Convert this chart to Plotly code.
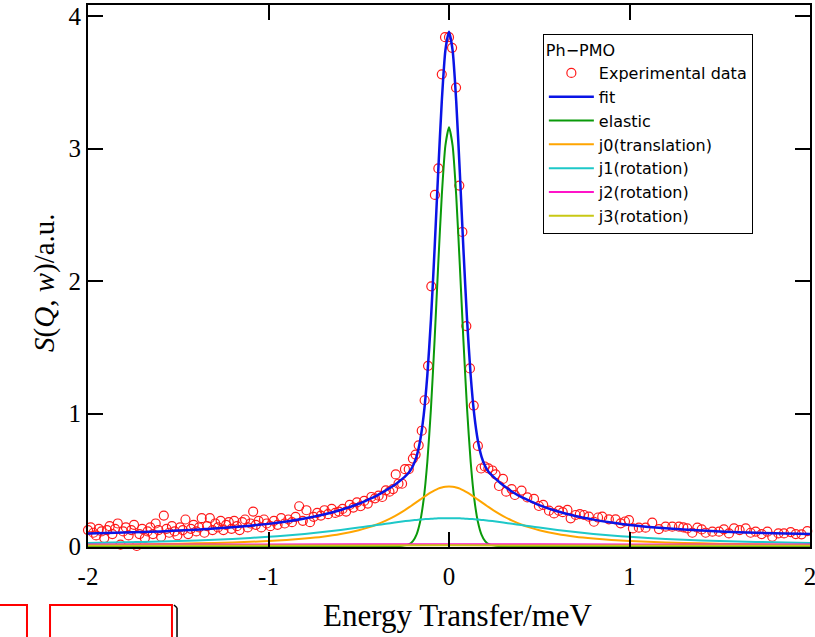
import plotly.graph_objects as go

# ---------------- data ----------------
exp_x_a = [-2.000,-1.985,-1.970,-1.955,-1.940,-1.925,-1.910,-1.895,-1.880,-1.865,
           -1.850,-1.835,-1.820,-1.805,-1.790,-1.775,-1.760,-1.745,-1.730,-1.715,
           -1.700,-1.685,-1.670,-1.655,-1.640,-1.625,-1.610,-1.595,-1.580,-1.565,
           -1.550,-1.535,-1.520,-1.505,-1.490,-1.475,-1.460,-1.445,-1.430,-1.415,
           -1.400,-1.385,-1.370,-1.355,-1.340,-1.325,-1.310,-1.295,-1.280,-1.265,
           -1.250,-1.235,-1.220,-1.205,-1.190,-1.175,-1.160,-1.145,-1.130,-1.115,
           -1.100,-1.085,-1.070,-1.055,-1.040,-1.025,-1.010]
exp_y_a = [0.12,0.14,0.10,0.08,0.13,0.11,0.06,0.12,0.15,0.09,
           0.13,0.17,0.01,0.11,0.14,0.08,0.12,0.16,0.00,0.09,
           0.13,0.06,0.11,0.14,0.09,0.17,0.12,0.07,0.23,0.13,
           0.10,0.15,0.11,0.08,0.14,0.12,0.20,0.09,0.13,0.16,
           0.11,0.14,0.21,0.10,0.15,0.21,0.12,0.17,0.14,0.19,
           0.12,0.16,0.18,0.13,0.19,0.15,0.12,0.18,0.20,0.14,
           0.17,0.26,0.16,0.19,0.14,0.20,0.17]

exp_x_b = [-0.99,-0.97,-0.95,-0.93,-0.91,-0.89,-0.87,-0.85,-0.83,-0.81,
           -0.79,-0.77,-0.75,-0.73,-0.71,-0.69,-0.67,-0.65,-0.63,-0.61,
           -0.59,-0.57,-0.55,-0.53,-0.51,-0.49,-0.47,-0.45,-0.43,-0.41,
           -0.39,-0.37,-0.35,-0.33,-0.31,-0.295]
exp_y_b = [0.15,0.19,0.16,0.21,0.17,0.20,0.18,0.22,0.30,0.19,
           0.27,0.18,0.22,0.25,0.23,0.27,0.24,0.28,0.25,0.26,
           0.28,0.26,0.31,0.29,0.33,0.30,0.34,0.32,0.37,0.36,
           0.38,0.37,0.42,0.41,0.43,0.54]

exp_x_c = [-0.28,-0.26,-0.244,-0.223,-0.20,-0.185,-0.168,-0.151,-0.135,-0.116,
           -0.098,-0.078,-0.059,-0.040,-0.022,0.000,0.017,0.039,0.057,0.074,
           0.096,0.116,0.137]
exp_y_c = [0.47,0.47,0.58,0.58,0.66,0.69,0.76,0.87,1.10,1.36,
           1.96,2.65,2.85,3.56,3.84,3.84,3.76,3.46,2.72,2.37,
           1.66,1.34,1.06]

exp_x_d = [0.160,0.178,0.198,0.218,0.240,0.258,0.277,0.299,0.317,0.347,
           0.365,0.402,0.434,0.471,0.498,0.522,0.554,0.582,0.609,0.630,
           0.656,0.674,0.702,0.725,0.748,0.775,0.803,0.826,0.849,0.886,
           0.923,0.951,0.975,0.997,1.019,1.052,1.089,1.126,1.163,1.200,
           1.237,1.274,1.298,1.320,1.348,1.376,1.400,1.422,1.459,1.496,
           1.523,1.551,1.579,1.610,1.644,1.671,1.699,1.732,1.764,1.791,
           1.825,1.856,1.893,1.921,1.953,1.985]
exp_y_d = [0.755,0.585,0.600,0.586,0.570,0.541,0.453,0.506,0.410,0.430,
           0.385,0.418,0.367,0.355,0.302,0.310,0.267,0.246,0.267,0.255,
           0.272,0.209,0.234,0.240,0.234,0.221,0.183,0.215,0.221,0.201,
           0.201,0.171,0.185,0.196,0.133,0.138,0.138,0.176,0.128,0.146,
           0.146,0.146,0.140,0.133,0.100,0.138,0.125,0.100,0.108,0.108,
           0.126,0.095,0.133,0.120,0.133,0.100,0.108,0.090,0.108,0.070,
           0.095,0.095,0.105,0.090,0.088,0.113]

curve_x = [-2.0,-1.8,-1.6,-1.4,-1.2,-1.0,-0.9,-0.8,-0.7,-0.6,
           -0.5,-0.45,-0.4,-0.35,-0.3,-0.26,-0.22,-0.2,-0.18,-0.16,
           -0.14,-0.12,-0.1,-0.08,-0.06,-0.04,-0.02,0.0,
           0.02,0.04,0.06,0.08,0.1,0.12,0.14,0.16,0.18,0.2,
           0.22,0.26,0.3,0.35,0.4,0.45,0.5,0.6,0.7,0.8,
           0.9,1.0,1.2,1.4,1.6,1.8,2.0]
fit_y = [0.094,0.101,0.110,0.123,0.141,0.167,0.185,0.208,0.236,0.272,
         0.319,0.349,0.381,0.420,0.463,0.505,0.559,0.604,0.675,0.794,
         0.989,1.289,1.709,2.237,2.819,3.356,3.741,3.881,
         3.741,3.356,2.819,2.237,1.709,1.289,0.989,0.794,0.675,0.604,
         0.559,0.505,0.458,0.410,0.370,0.338,0.308,0.262,0.226,0.199,
         0.177,0.159,0.134,0.117,0.104,0.096,0.090]
elastic_y = [0,0,0,0,0,0,0,0,0,0,
             0,0,0,0,0,0.002,0.014,0.037,0.086,0.183,
             0.356,0.636,1.037,1.549,2.116,2.644,3.022,3.160,
             3.022,2.644,2.116,1.549,1.037,0.636,0.356,0.183,0.086,0.037,
             0.014,0.002,0,0,0,0,0,0,0,0,
             0,0,0,0,0,0,0]
j0_y = [0.010,0.012,0.015,0.020,0.027,0.037,0.045,0.056,0.070,0.090,
        0.119,0.139,0.162,0.191,0.225,0.257,0.293,0.312,0.331,0.350,
        0.370,0.388,0.405,0.420,0.433,0.442,0.448,0.450,
        0.448,0.442,0.433,0.420,0.405,0.388,0.370,0.350,0.331,0.312,
        0.293,0.257,0.225,0.191,0.162,0.139,0.119,0.090,0.070,0.056,
        0.045,0.037,0.027,0.020,0.015,0.012,0.010]
j1_y = [0.023,0.028,0.034,0.042,0.053,0.069,0.079,0.091,0.105,0.121,
        0.139,0.149,0.158,0.168,0.177,0.185,0.191,0.194,0.197,0.200,
        0.202,0.204,0.206,0.207,0.209,0.209,0.210,0.210,
        0.210,0.209,0.209,0.207,0.206,0.204,0.202,0.200,0.197,0.194,
        0.191,0.185,0.177,0.168,0.158,0.149,0.139,0.121,0.105,0.091,
        0.079,0.069,0.053,0.042,0.034,0.028,0.023]
small_x = [-2.0, -1.0, 0.0, 1.0, 2.0]
j2_y = [0.011, 0.012, 0.013, 0.012, 0.011]
j3_y = [0.004, 0.004, 0.005, 0.004, 0.004]

x_ticks = [-2, -1, 0, 1, 2]
x_tick_text = ["-2", "-1", "0", "1", "2"]
y_ticks = [0, 1, 2, 3, 4]

# ---------------- figure ----------------
exp_x = exp_x_a + exp_x_b + exp_x_c + exp_x_d
exp_y = exp_y_a + exp_y_b + exp_y_c + exp_y_d

fig = go.Figure()
fig.add_trace(go.Scatter(x=exp_x, y=exp_y, mode="markers", name="Experimental data",
                         cliponaxis=False,
                         marker=dict(symbol="circle-open", size=9, color="#ff1a1a",
                                     line=dict(width=1.2, color="#ff1a1a"))))
line_specs = [
    ("fit", curve_x, fit_y, "#0a14e6", 2.5),
    ("elastic", curve_x, elastic_y, "#0a9a0a", 2),
    ("j0(translation)", curve_x, j0_y, "#ffa500", 2),
    ("j1(rotation)", curve_x, j1_y, "#1ec8c8", 2),
    ("j2(rotation)", small_x, j2_y, "#ff14c8", 2),
    ("j3(rotation)", small_x, j3_y, "#c8c814", 2),
]
for name, xs, ys, col, w in line_specs:
    fig.add_trace(go.Scatter(x=xs, y=ys, mode="lines", name=name,
                             line=dict(color=col, width=w, shape="spline", smoothing=0.6)))

serif = "Liberation Serif, Times New Roman, serif"
axis_common = dict(showgrid=False, zeroline=False, showline=True, linecolor="black",
                   linewidth=2, mirror="allticks", ticks="inside", ticklen=15,
                   tickwidth=2, tickcolor="black", automargin=False,
                   ticklabeloverflow="allow",
                   tickfont=dict(family=serif, size=25, color="black"))

fig.update_layout(
    width=815, height=637,
    margin=dict(l=88, r=5, t=5, b=90, autoexpand=False),
    paper_bgcolor="white", plot_bgcolor="white",
    xaxis=dict(range=[-2, 2], tickvals=x_ticks, ticktext=x_tick_text,
               ticklabelstandoff=6, **axis_common),
    yaxis=dict(range=[-0.0075, 4.083], tickvals=y_ticks, **axis_common),
    showlegend=True,
    legend=dict(x=0.630, y=0.946, xanchor="left", yanchor="top",
                bgcolor="white", bordercolor="black", borderwidth=1,
                font=dict(family="DejaVu Sans", size=16, color="black"),
                title=dict(text="Ph\u2212PMO", font=dict(family="DejaVu Sans", size=16)),
                itemwidth=45, tracegroupgap=0),
    annotations=[
        dict(text="Energy Transfer/meV", xref="paper", yref="paper", x=0.512, y=-0.1255,
             xanchor="center", yanchor="middle", showarrow=False,
             font=dict(family=serif, size=31, color="black")),
        dict(text="<i>S</i>(<i>Q</i>, <i>w</i>)/a.u.", xref="paper", yref="paper",
             x=-0.0596, y=0.489, xanchor="center", yanchor="middle", textangle=-90,
             showarrow=False, font=dict(family=serif, size=29, color="black")),
    ],
    shapes=[
        dict(type="rect", xref="paper", yref="paper", x0=-0.1247, x1=-0.0845,
             y0=-0.18, y1=-0.107, line=dict(color="red", width=2)),
        dict(type="rect", xref="paper", yref="paper", x0=-0.0526, x1=0.1163,
             y0=-0.18, y1=-0.107, line=dict(color="red", width=2)),
        dict(type="line", xref="paper", yref="paper", x0=0.1233, x1=0.1233,
             y0=-0.18, y1=-0.112, line=dict(color="black", width=1.5)),
        dict(type="line", xref="paper", yref="paper", x0=0.1190, x1=0.1233,
             y0=-0.107, y1=-0.112, line=dict(color="black", width=1.5)),
    ],
)

fig.write_html("out.html")
